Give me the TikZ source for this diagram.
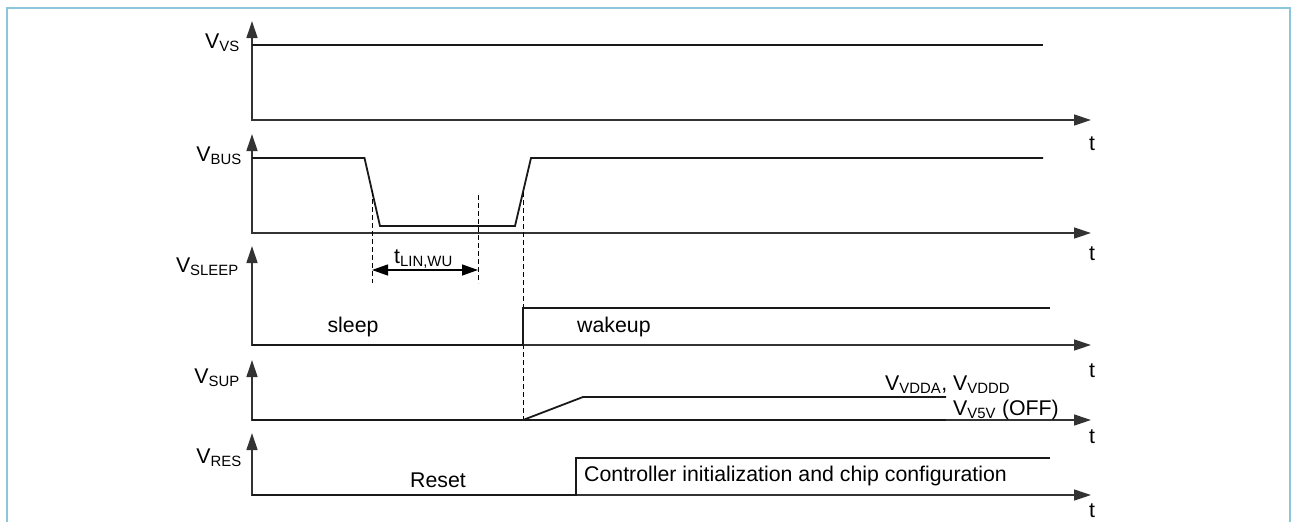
\documentclass[tikz,border=0pt]{standalone}
\usepackage{fontspec}
\setmainfont{Liberation Sans}
\usetikzlibrary{arrows.meta}
\definecolor{framecol}{RGB}{140,198,220}

\begin{document}
\begin{tikzpicture}[x=1pt, y=-1pt,
  axes/.style={line width=1.3pt, black!80,
    {Triangle[length=17pt,width=11pt]}-{Triangle[length=17pt,width=11pt]}},
  sig/.style={line width=1.8pt, black!90, line join=miter},
  guide/.style={line width=0.9pt, dash pattern=on 5pt off 3pt},
  dim/.style={line width=1.3pt,
    {Triangle[length=16pt,width=11pt]}-{Triangle[length=16pt,width=11pt]}},
  lbl/.style={font=\fontsize{21.3}{24}\selectfont, inner sep=0pt}]

  \useasboundingbox (0,0) rectangle (1292,522);
  \draw[framecol, line width=1.8pt] (7,522) -- (7,8) -- (1290,8) -- (1290,522);

  % V_VS
  \coordinate (VSo) at (252,120);
  \draw[axes] (252,21) -- (VSo) -- (1091,120);
  \draw[sig] (252,45) -- (1043,45);
  \node[lbl, anchor=base east] (VSlab) at (240,48) {V\textsubscript{VS}};
  \node[lbl, anchor=base] (VSt) at (1092,150) {t};

  % V_BUS
  \coordinate (BUSo) at (252,233);
  \coordinate (fallA) at (364.5,158);
  \coordinate (fallB) at (380,226);
  \coordinate (riseA) at (515,226);
  \coordinate (riseB) at (531,158);
  \draw[axes] (252,134) -- (BUSo) -- (1091,233);
  \draw[sig] (252,158) -- (fallA) -- (fallB) -- (riseA) -- (riseB) -- (1043,158);
  \node[lbl, anchor=base east] (BUSlab) at (242,161) {V\textsubscript{BUS}};
  \node[lbl, anchor=base] (BUSt) at (1092,260) {t};

  % Wake-up time
  \coordinate (wuA) at (372,191);
  \coordinate (wuB) at (478,195);
  \coordinate (wake) at (523,192);
  \draw[guide] (wuA) -- (372,283);
  \draw[guide] (wuB) -- (478,283);
  \draw[guide] (wake) -- (523,420);
  \draw[dim] (372,270) -- (478,270);
  \node[lbl, anchor=base west] (tlin) at (394,263) {t\textsubscript{LIN,WU}};

  % V_SLEEP
  \coordinate (SLo) at (252,345);
  \draw[axes] (252,246) -- (SLo) -- (1091,345);
  \draw[sig] (SLo) -- (523,345) -- (523,308) -- (1050,308);
  \node[lbl, anchor=base east] (SLlab) at (239,272) {V\textsubscript{SLEEP}};
  \node[lbl, anchor=base] (sleep) at (353,332) {sleep};
  \node[lbl, anchor=base west] (wakeup) at (577,332) {wakeup};
  \node[lbl, anchor=base] (SLt) at (1092,377) {t};

  % V_SUP
  \coordinate (SUo) at (252,420);
  \draw[axes] (252,360) -- (SUo) -- (1091,420);
  \draw[sig] (SUo) -- (946,420);
  \draw[sig] (523,420) -- (583,397) -- (946,397);
  \node[lbl, anchor=base east] (SUlab) at (240,383) {V\textsubscript{SUP}};
  \node[lbl, anchor=base west] (vdd) at (885,390) {V\textsubscript{VDDA}, V\textsubscript{VDDD}};
  \node[lbl, anchor=base west] (v5v) at (953,415) {V\textsubscript{V5V} (OFF)};
  \node[lbl, anchor=base] (SUt) at (1092,443) {t};

  % V_RES
  \coordinate (REo) at (252,495);
  \draw[axes] (252,433) -- (REo) -- (1091,495);
  \draw[sig] (REo) -- (576,495) -- (576,458) -- (1050,458);
  \node[lbl, anchor=base east] (RElab) at (242,463) {V\textsubscript{RES}};
  \node[lbl, anchor=base] (reset) at (438,487) {Reset};
  \node[lbl, anchor=base west] (init) at (584,481) {Controller initialization and chip configuration};
  \node[lbl, anchor=base] (REt) at (1092,517) {t};

\end{tikzpicture}
\end{document}
